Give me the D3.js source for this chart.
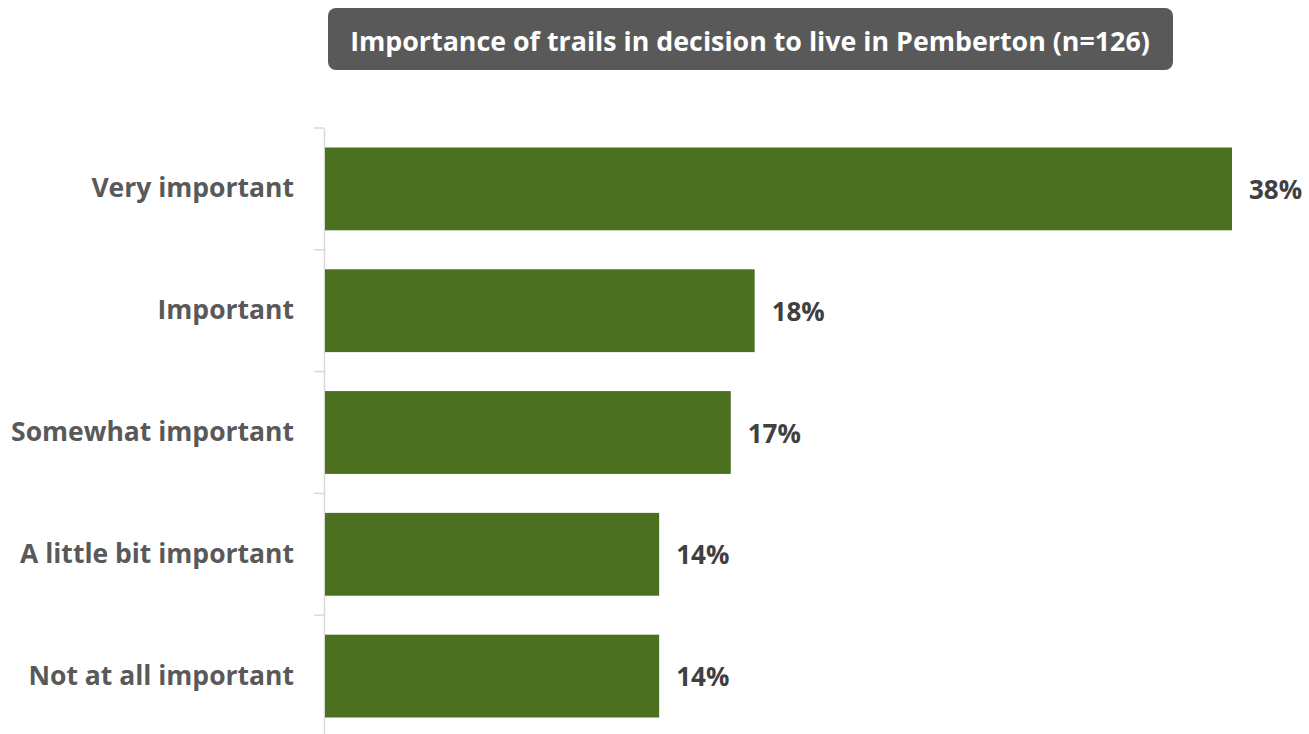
<!DOCTYPE html>
<html>
<head>
<meta charset="utf-8">
<script src="https://cdn.jsdelivr.net/npm/d3@7"></script>
<style>
  body { margin: 0; background: #fff; }
  svg { display: block; font-family: "Open Sans", sans-serif; }
</style>
</head>
<body>
<div id="chart"></div>
<script>
// data
var categories = ["Very important", "Important", "Somewhat important", "A little bit important", "Not at all important"];
var values = [38, 18, 17, 14, 14];
var title = "Importance of trails in decision to live in Pemberton (n=126)";

var W = 1309, H = 734;
var margin = {top: 128, right: 0, bottom: 0, left: 324};

var svg = d3.select("#chart").append("svg")
  .attr("width", W)
  .attr("height", H);

// title box
var tb = svg.append("g");
tb.append("rect")
  .attr("x", 328).attr("y", 8)
  .attr("width", 845).attr("height", 62)
  .attr("rx", 8).attr("ry", 8)
  .attr("fill", "#595959");
tb.append("text")
  .attr("x", 750).attr("y", 40)
  .attr("text-anchor", "middle")
  .attr("dominant-baseline", "central")
  .attr("fill", "#fff")
  .attr("font-weight", "bold")
  .attr("font-size", 26.8)
  .text(title);

var data = categories.map(function(c, i) { return {cat: c, val: values[i]}; });

var x = d3.scaleLinear()
  .domain([0, 38])
  .range([margin.left + 1, 1232]);

var y = d3.scaleBand()
  .domain(categories)
  .range([margin.top, H + 3])
  .paddingInner(0.32)
  .paddingOuter(0.16);

// axis
var axis = svg.append("g")
  .attr("transform", "translate(" + margin.left + ",0)")
  .call(d3.axisLeft(y).tickSize(0).tickPadding(30));
axis.select(".domain").attr("stroke", "#d9d9d9").attr("stroke-width", 1.5);
axis.selectAll("text")
  .attr("fill", "#595959")
  .attr("font-size", 26.5)
  .attr("font-weight", "bold")
  .attr("font-family", "'Open Sans', sans-serif");

// tick marks between categories
var step = y.step();
var bounds = d3.range(categories.length + 1).map(function(i) { return margin.top + i * step; });
svg.append("g").selectAll("line")
  .data(bounds)
  .enter().append("line")
    .attr("x1", margin.left - 10)
    .attr("x2", margin.left)
    .attr("y1", function(d) { return d; })
    .attr("y2", function(d) { return d; })
    .attr("stroke", "#d9d9d9")
    .attr("stroke-width", 1.5);

// bars
svg.append("g").selectAll("rect")
  .data(data)
  .enter().append("rect")
    .attr("x", x(0))
    .attr("y", function(d) { return y(d.cat); })
    .attr("width", function(d) { return x(d.val) - x(0); })
    .attr("height", y.bandwidth())
    .attr("fill", "#4a7020");

// value labels
svg.append("g").selectAll("text")
  .data(data)
  .enter().append("text")
    .attr("x", function(d) { return x(d.val) + 17; })
    .attr("y", function(d) { return y(d.cat) + y.bandwidth() / 2; })
    .attr("dominant-baseline", "central")
    .attr("fill", "#404040")
    .attr("font-size", 26)
    .attr("font-weight", "bold")
    .text(function(d) { return d.val + "%"; });
</script>
</body>
</html>
